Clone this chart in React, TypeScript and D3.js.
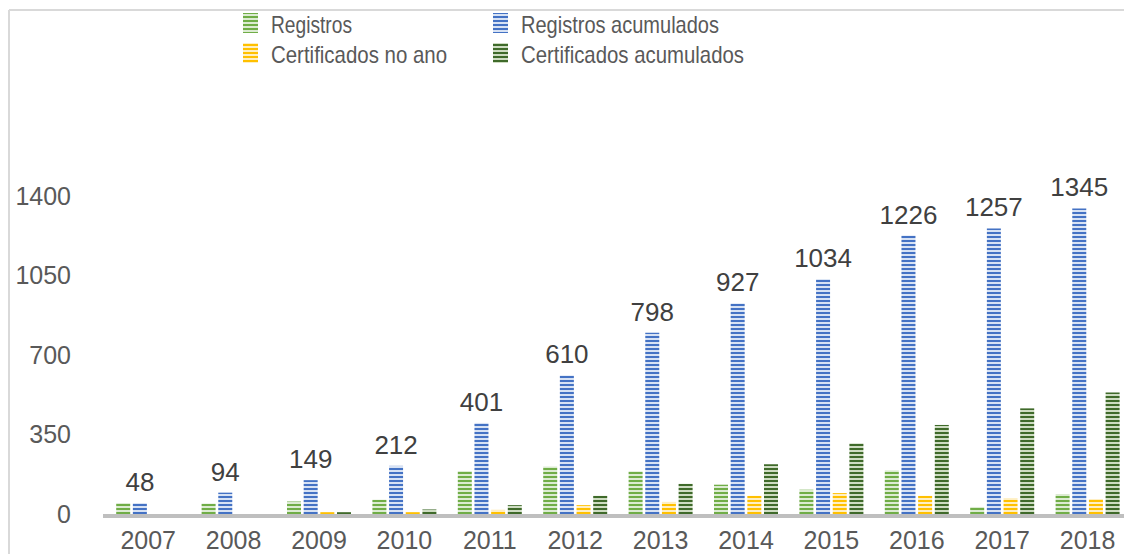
import React from 'react';
import * as d3 from 'd3';

const years = ['2007', '2008', '2009', '2010', '2011', '2012', '2013', '2014', '2015', '2016', '2017', '2018'];
const registros = [48, 46, 55, 63, 189, 209, 188, 129, 107, 192, 31, 88];
const registrosAcumulados = [48, 94, 149, 212, 401, 610, 798, 927, 1034, 1226, 1257, 1345];
const certificadosNoAno = [0, 0, 8, 8, 18, 39, 53, 80, 92, 80, 70, 66];
const certificadosAcumulados = [0, 0, 8, 20, 39, 80, 133, 219, 311, 392, 465, 535];
const yTicks = [0, 350, 700, 1050, 1400];

const seriesNames = ['Registros', 'Registros acumulados', 'Certificados no ano', 'Certificados acumulados'];
const seriesValues = [registros, registrosAcumulados, certificadosNoAno, certificadosAcumulados];
const colors = ['#70AD47', '#4472C4', '#FFC000', '#3F6A2A'];
const lightColors = ['#DCEBD2', '#D7E2F4', '#FFEFC2', '#CEDCC2'];
// rough widths of the legend labels in the picture
const legendWidths = [81, 198, 176, 223];

const width = 1124;
const height = 554;
const font = '"Liberation Sans", Arial, sans-serif';

const App = () => {
    const x0 = d3.scaleBand<string>().domain(years).range([105.5, 1130.3]).paddingInner(0).paddingOuter(0);
    const x1 = d3.scaleBand<number>().domain([0, 1, 2, 3]).range([-32, 32]).paddingInner(0.16);
    const y = d3.scaleLinear().domain([0, 1400]).range([514, 196]);

    return (
        <svg
            width={width}
            height={height}
            style={{ position: 'absolute', left: 0, top: 0, background: '#fff', fontFamily: font }}
        >
            <defs>
                {colors.map((c, i) => (
                    <pattern key={i} id={`stripe-${i}`} width={4} height={4} patternUnits="userSpaceOnUse">
                        <rect width={4} height={4} fill={lightColors[i]} />
                        <rect width={4} height={2} fill={c} />
                    </pattern>
                ))}
            </defs>

            {/* frame edge */}
            <line x1={9} x2={width} y1={10} y2={10} stroke="#d9d9d9" strokeWidth={2} />
            <line x1={9} x2={9} y1={10} y2={height} stroke="#d9d9d9" strokeWidth={2} />

            {/* legend */}
            {seriesNames.map((name, i) => {
                const col = i % 2;
                const row = Math.floor(i / 2);
                const lx = col === 0 ? 243 : 493;
                const ly = row === 0 ? 33 : 63;
                return (
                    <g key={name}>
                        <rect x={lx} y={ly - 20} width={15} height={20} fill={`url(#stripe-${i})`} />
                        <text
                            x={lx + 28}
                            y={ly}
                            fontSize={24}
                            fill="#595959"
                            textLength={legendWidths[i]}
                            lengthAdjust="spacingAndGlyphs"
                        >
                            {name}
                        </text>
                    </g>
                );
            })}

            {/* y tick labels */}
            {yTicks.map(t => (
                <text key={t} x={71} y={y(t)} dy="0.35em" textAnchor="end" fontSize={25} fill="#595959">
                    {t}
                </text>
            ))}

            {/* x axis line */}
            <line x1={103} x2={width} y1={y(0) + 2} y2={y(0) + 2} stroke="#bfbfbf" strokeWidth={4} />

            {/* bars */}
            {years.map((yr, j) => (
                <g key={yr} transform={`translate(${x0(yr)! + x0.bandwidth() / 2},0)`}>
                    {seriesValues.map((vals, i) =>
                        vals[j] > 0 ? (
                            <rect
                                key={i}
                                x={x1(i)}
                                y={y(vals[j])}
                                width={x1.bandwidth()}
                                height={y(0) - y(vals[j])}
                                fill={`url(#stripe-${i})`}
                            />
                        ) : null
                    )}
                    <text
                        x={x1(1)! + x1.bandwidth() / 2}
                        y={y(registrosAcumulados[j]) - 12}
                        textAnchor="middle"
                        fontSize={26}
                        fill="#404040"
                    >
                        {registrosAcumulados[j]}
                    </text>
                    <text x={0} y={549} textAnchor="middle" fontSize={25} fill="#595959">
                        {yr}
                    </text>
                </g>
            ))}
        </svg>
    );
};

export default App;
